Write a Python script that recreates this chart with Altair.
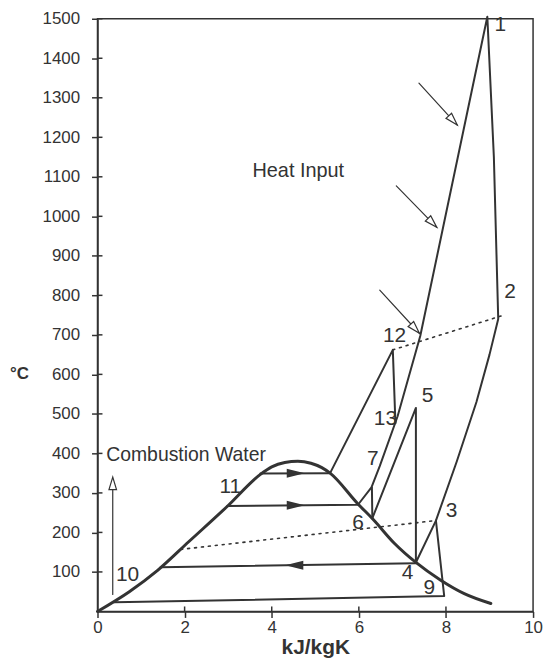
import math
import altair as alt
import pandas as pd

W, H = 438, 596
PXX, PXY = W / 10.0, H / 1500.0
FONT = "Liberation Sans"
INK = "#333333"

# ---- data (entropy s in kJ/kgK, temperature T in °C) ----
dome_s = [0.0, 0.73, 1.38, 2.10, 2.97, 3.74, 4.0, 4.3, 4.6, 4.9, 5.15, 5.34, 5.98, 6.32, 6.82, 7.31, 7.88, 8.42, 9.03]
dome_T = [0, 50, 104, 177, 265, 347, 366, 377, 380, 375, 364, 350, 272, 234, 172, 124, 79, 45, 20]

# gas turbine cycle: heat input line 7 -> 1, expansion 1 -> 2, exhaust 2 -> 3 -> 9, bottom line
gas_s = [2.98, 5.98, 6.29, 6.48, 6.89, 7.41, 8.95, 9.10, 9.20, 9.00, 8.70, 8.25, 7.77, 7.96, 0.39]
gas_T = [267, 270, 314, 368, 494, 697, 1505, 1150, 740, 650, 530, 380, 230, 39, 23]

# steam cycle 6 -> 5 -> 4 -> 3
steam_s = [6.31, 7.31, 7.31, 7.77]
steam_T = [236, 515, 124, 230]

# 12 / 13 branch
hp_s = [5.34, 6.78, 6.84]
hp_T = [350, 662, 476]

# small vertical at 7 -> 6
v7_s = [6.30, 6.31]
v7_T = [314, 236]

# isobars (evaporation lines)
isoA_s = [3.74, 5.34]
isoA_T = [349, 350]
isoC_s = [1.45, 7.31]
isoC_T = [112, 122]

# dotted lines
dot1_s = [1.91, 7.77]
dot1_T = [157, 230]
dot2_s = [6.78, 9.33]
dot2_T = [662, 750]

# heat input arrows (start, tip)
harrow_s0 = [7.38, 6.86, 6.48]
harrow_T0 = [1337, 1077, 813]
harrow_s1 = [8.26, 7.79, 7.39]
harrow_T1 = [1231, 972, 704]

# combustion water arrow
cw_s = [0.35, 0.35]
cw_T = [43, 340]

# filled flow arrows on isobars
flow_s = [4.76, 4.76, 4.31]
flow_T = [349.5, 268.8, 117]
flow_dir = ["right", "right", "left"]

# point labels
lab_text = ["1", "2", "3", "4", "5", "6", "7", "9", "10", "11", "12", "13"]
lab_s = [9.25, 9.47, 8.13, 7.12, 7.58, 5.98, 6.32, 7.62, 0.69, 3.05, 6.82, 6.61]
lab_T = [1484, 808, 255, 96, 544, 224, 387, 60, 91, 314, 697, 486]

# axis ticks
x_ticks = [0, 2, 4, 6, 8, 10]
y_ticks = list(range(100, 1501, 100))

# ---- build tables ----
def segs(pairs):
    rows = []
    for name, xs, ys in pairs:
        for i, (a, b) in enumerate(zip(xs, ys)):
            rows.append({"seg": name, "i": i, "s": a, "T": b})
    return pd.DataFrame(rows)

xaxis = alt.Axis(values=x_ticks, title="kJ/kgK", format="d", labelFont=FONT, labelFontSize=17,
                 labelColor=INK, titleFont=FONT, titleFontSize=21, titleFontWeight="bold",
                 titleColor=INK, tickColor=INK, domainColor=INK, domainWidth=1.5, tickWidth=1.5,
                 tickSize=6, labelPadding=2, titlePadding=1, grid=False, labelFlush=False)
yaxis = alt.Axis(values=y_ticks, title=None, format="d", labelFont=FONT, labelFontSize=17,
                 labelColor=INK, tickColor=INK, domainColor=INK, domainWidth=1.5, tickWidth=1.5,
                 tickSize=6, labelPadding=12, grid=False, labelFlush=False)

def X(f="s"):
    return alt.X(f"{f}:Q", scale=alt.Scale(domain=[0, 10], nice=False, zero=False), axis=xaxis)

def Y(f="T"):
    return alt.Y(f"{f}:Q", scale=alt.Scale(domain=[0, 1500], nice=False, zero=False), axis=yaxis)

def line_layer(df, width, dash=None):
    kw = dict(color=INK, strokeWidth=width, strokeCap="round", strokeJoin="round")
    if dash:
        kw["strokeDash"] = dash
    return alt.Chart(df).mark_line(**kw).encode(x=X(), y=Y(), detail="seg:N", order="i:Q")

dome = alt.Chart(pd.DataFrame({"s": dome_s, "T": dome_T, "i": range(len(dome_s))})).mark_line(
    color=INK, strokeWidth=3, interpolate="monotone", strokeCap="round").encode(x=X(), y=Y(), order="i:Q")

proc = line_layer(segs([("gas", gas_s, gas_T), ("steam", steam_s, steam_T), ("hp", hp_s, hp_T),
                        ("v7", v7_s, v7_T), ("A", isoA_s, isoA_T), ("C", isoC_s, isoC_T)]), 2)
dots = line_layer(segs([("d1", dot1_s, dot1_T), ("d2", dot2_s, dot2_T)]), 1.6, [2, 5])

# heat input arrows
shaft_rows = []
head_rows = []
for k in range(3):
    shaft_rows += [{"seg": f"h{k}", "i": 0, "s": harrow_s0[k], "T": harrow_T0[k]},
                   {"seg": f"h{k}", "i": 1, "s": harrow_s1[k], "T": harrow_T1[k]}]
    dx = (harrow_s1[k] - harrow_s0[k]) * PXX
    dy = -(harrow_T1[k] - harrow_T0[k]) * PXY
    head_rows.append({"s": harrow_s1[k], "T": harrow_T1[k], "ang": math.degrees(math.atan2(dy, dx)) % 360})
shaft_rows += [{"seg": "cw", "i": 0, "s": cw_s[0], "T": cw_T[0]},
               {"seg": "cw", "i": 1, "s": cw_s[1], "T": cw_T[1] - 8}]
head_rows.append({"s": cw_s[1], "T": cw_T[1], "ang": 270})
shafts = line_layer(pd.DataFrame(shaft_rows), 1.2)
open_heads = alt.Chart(pd.DataFrame(head_rows)).mark_point(
    shape="M0,0L-2,-0.6L-2,0.6Z", size=160, filled=True, fill="white", stroke=INK,
    strokeWidth=1.2, opacity=1).encode(x=X(), y=Y(), angle=alt.Angle("ang:Q", scale=None))

flow_df = pd.DataFrame({"s": flow_s, "T": flow_T, "ang": [0 if d == "right" else 180 for d in flow_dir]})
flow_heads = alt.Chart(flow_df).mark_point(
    shape="M0,0L-2,-0.5L-2,0.5Z", size=330, filled=True, color=INK, opacity=1).encode(
    x=X(), y=Y(), angle=alt.Angle("ang:Q", scale=None))

# inner halves of the cross-shaped ticks
ytick_in = alt.Chart(pd.DataFrame({"T": y_ticks})).mark_rule(color=INK, strokeWidth=1.5).encode(
    y=Y(), x=alt.value(0), x2=alt.value(5))
xtick_in = alt.Chart(pd.DataFrame({"s": x_ticks[1:-1]})).mark_rule(color=INK, strokeWidth=1.5).encode(
    x=X(), y=alt.value(H - 5), y2=alt.value(H))

labels = alt.Chart(pd.DataFrame({"s": lab_s, "T": lab_T, "t": lab_text})).mark_text(
    font=FONT, fontSize=21, color=INK, baseline="middle", align="center").encode(x=X(), y=Y(), text="t:N")

heat_txt = alt.Chart(pd.DataFrame({"s": [4.61], "T": [1115], "t": ["Heat Input"]})).mark_text(
    font=FONT, fontSize=20, color=INK, baseline="middle", align="center").encode(x=X(), y=Y(), text="t:N")
cw_txt = alt.Chart(pd.DataFrame({"s": [0.2], "T": [395], "t": ["Combustion Water"]})).mark_text(
    font=FONT, fontSize=19.5, color=INK, baseline="middle", align="left").encode(x=X(), y=Y(), text="t:N")
unit_txt = alt.Chart(pd.DataFrame({"T": [600], "t": ["°C"]})).mark_text(
    font=FONT, fontSize=17, fontWeight="bold", color=INK, baseline="middle", align="left").encode(
    x=alt.value(-88), y=Y(), text="t:N")

chart = alt.layer(dome, proc, dots, shafts, open_heads, flow_heads, ytick_in, xtick_in,
                  labels, heat_txt, cw_txt, unit_txt).properties(
    width=W, height=H, padding={"left": 2, "top": 0, "right": 2, "bottom": 0}, background="white"
).configure_view(stroke=INK, strokeWidth=1.5)

chart.save("out.html", embed_options={"renderer": "svg", "actions": False})
